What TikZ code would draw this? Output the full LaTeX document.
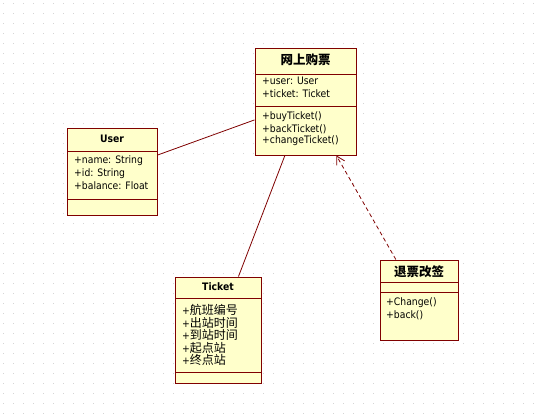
\documentclass[tikz,border=0pt]{standalone}
\usepackage{fontspec}
\setmainfont{DejaVu Sans Condensed}
\newfontfamily\cjk{Noto Sans CJK SC}
\usetikzlibrary{arrows.meta}
\definecolor{umlfill}{RGB}{255,255,203}
\definecolor{umlline}{RGB}{128,0,0}
\definecolor{griddot}{RGB}{212,212,212}
\tikzset{
  classbox/.style={draw=umlline, fill=umlfill, line width=0.9pt, rectangle, inner sep=0pt},
  sepline/.style={draw=umlline, line width=0.9pt},
  member/.style={anchor=west, inner sep=0pt, font=\fontsize{10.3}{12}\selectfont},
  title/.style={anchor=center, inner sep=0pt, font=\fontsize{10.3}{12}\selectfont\bfseries},
  cjktitle/.style={anchor=center, inner sep=0pt, font=\fontsize{12.5}{14}\selectfont\cjk\bfseries},
  assoc/.style={draw=umlline, line width=0.8pt},
  depend/.style={draw=umlline, line width=0.8pt, dash pattern=on 4pt off 3pt, -{Straight Barb[length=8pt,width=9pt]}}
}
\begin{document}
\begin{tikzpicture}[x=1pt,y=-1pt]
\useasboundingbox (0,0) rectangle (539,416);
\fill[white] (0,0) rectangle (539,416);
% dotted background grid
\foreach \i in {0,...,53}{
  \foreach \j in {0,...,41}{
    \fill[griddot] ({10*\i+3},{10*\j+3}) rectangle ++(1,1);
  }
}
% main class
\node[classbox, minimum width=101pt, minimum height=107pt] (main) at (305.5,101.5) {};
\draw[sepline] (255,74) -- (356,74);
\draw[sepline] (255,106) -- (356,106);
\node[cjktitle] (mainT) at (305.5,60) {网上购票};
\node[member] (m1) at (262,81) {+user: User};
\node[member] (m2) at (262,94) {+ticket: Ticket};
\node[member] (m3) at (262,117) {+buyTicket()};
\node[member] (m4) at (262,129) {+backTicket()};
\node[member] (m5) at (262,141) {+changeTicket()};
% User class
\node[classbox, minimum width=90pt, minimum height=87pt] (user) at (112,171.5) {};
\draw[sepline] (67,151) -- (157,151);
\draw[sepline] (67,199) -- (157,199);
\node[title] (userT) at (112,139) {User};
\node[member] (u1) at (74,161) {+name: String};
\node[member] (u2) at (74,173.5) {+id: String};
\node[member] (u3) at (74,186) {+balance: Float};
% Ticket class
\node[classbox, minimum width=86pt, minimum height=106pt] (ticket) at (218,330) {};
\draw[sepline] (175,298) -- (261,298);
\draw[sepline] (175,372) -- (261,372);
\node[title] (ticketT) at (218,287) {Ticket};
\node[member] (t1) at (182,310) {+{\cjk\fontsize{12}{12}\selectfont 航班编号}};
\node[member] (t2) at (182,322.5) {+{\cjk\fontsize{12}{12}\selectfont 出站时间}};
\node[member] (t3) at (182,335) {+{\cjk\fontsize{12}{12}\selectfont 到站时间}};
\node[member] (t4) at (182,347.5) {+{\cjk\fontsize{12}{12}\selectfont 起点站}};
\node[member] (t5) at (182,360) {+{\cjk\fontsize{12}{12}\selectfont 终点站}};
% refund class
\node[classbox, minimum width=78pt, minimum height=80pt] (refund) at (419,300) {};
\draw[sepline] (380,282) -- (458,282);
\draw[sepline] (380,292) -- (458,292);
\node[cjktitle] (refundT) at (419,272) {退票改签};
\node[member] (r1) at (386,303) {+Change()};
\node[member] (r2) at (386,315) {+back()};
% connectors
\draw[assoc] (user) -- (main);
\draw[assoc] (ticket) -- (main);
\draw[depend] (refund) -- (main);
\end{tikzpicture}
\end{document}
